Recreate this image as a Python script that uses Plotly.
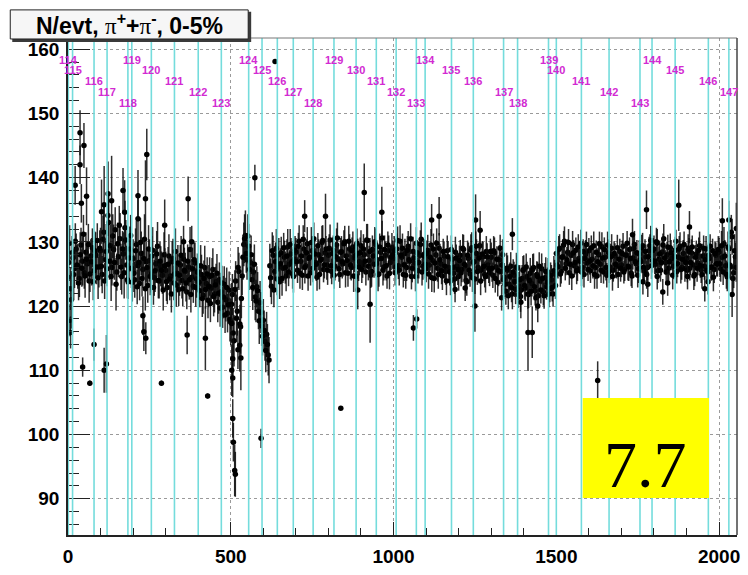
import plotly.graph_objects as go

# ---------------------------------------------------------------- data
# pion multiplicity per event along the run sequence; two interleaved samplings
entry_step = 5
n_evt = [
    124.5, 129.8, 121.0, 127.5, 125.8, 128.9, 126.2, 124.3, 129.5, 127.0, 125.2, 128.4, 126.6, 123.9, 127.8, 129.1, 125.5, 127.9, 130.2, 126.1,
    128.6, 124.9, 131.5, 127.2, 125.8, 133.0, 129.4, 126.0, 128.8, 131.9, 125.3, 127.7, 130.5, 124.6, 128.1, 132.2, 126.4, 123.8, 128.9, 125.9,
    127.4, 124.1, 129.6, 126.3, 123.5, 128.2, 125.7, 130.4, 126.9, 123.2, 127.1, 125.0, 128.7, 124.4, 126.6, 129.3, 123.9, 126.2, 124.8, 128.0,
    125.6, 122.9, 127.8, 124.7, 126.9, 123.6, 128.5, 125.1, 122.6, 126.4, 124.0, 127.3, 125.4, 122.2, 126.1, 128.8, 124.5, 123.1, 126.7, 124.2,
    125.3, 122.4, 124.9, 121.7, 126.0, 123.5, 120.9, 124.6, 122.8, 125.7, 121.9, 123.8, 120.6, 124.1, 122.2, 119.8, 123.4, 121.0, 118.9, 122.5,
    117.5, 121.8, 114.6, 123.9, 119.2, 125.4, 116.8, 124.7, 129.6, 131.0, 127.2, 129.3, 126.8, 124.1, 125.3, 121.4, 123.0, 119.2, 120.5, 116.9,
    117.8, 114.5, 115.6, 112.4, 126.3, 123.1, 127.9, 125.4, 129.0, 126.1, 123.8, 128.3, 125.9, 127.6, 124.7, 129.2, 126.5, 128.1, 125.0, 127.3,
    128.4, 125.6, 130.1, 127.0, 124.8, 128.9, 126.3, 129.7, 127.4, 125.2, 128.6, 130.5, 126.8, 124.5, 128.0, 127.1, 129.9, 125.7, 128.3, 126.4,
    127.9, 130.3, 125.4, 128.7, 126.2, 129.5, 127.3, 124.9, 128.5, 126.6, 130.0, 127.8, 125.1, 128.9, 126.0, 129.2, 127.5, 124.6, 128.2, 126.9,
    129.4, 126.4, 128.0, 125.3, 130.2, 127.1, 124.8, 128.8, 126.5, 129.6, 127.2, 125.0, 128.4, 130.6, 126.1, 127.9, 124.7, 128.6, 126.8, 129.1,
    127.4, 125.2, 128.9, 126.3, 130.1, 127.6, 124.9, 128.2, 126.0, 129.3, 127.0, 124.6, 128.5, 126.7, 129.8, 125.5, 127.9, 130.4, 126.2, 128.1,
    125.8, 128.7, 126.4, 129.5, 127.1, 124.3, 128.0, 125.9, 129.0, 126.6, 124.7, 127.8, 125.4, 128.6, 126.0, 123.9, 127.3, 125.1, 128.4, 126.2,
    124.6, 127.9, 125.7, 128.8, 126.3, 123.8, 127.4, 125.0, 129.1, 126.8, 124.2, 128.2, 126.0, 129.4, 125.6, 127.7, 124.9, 128.5, 126.4, 125.2,
    127.6, 124.8, 128.3, 126.1, 123.7, 127.2, 125.4, 128.0, 124.5, 122.3, 125.6, 123.4, 126.2, 121.9, 124.8, 122.6, 125.9, 123.1, 121.5, 124.3,
    125.7, 122.8, 124.6, 121.8, 125.1, 123.5, 126.0, 122.4, 124.9, 121.6, 123.9, 125.8, 122.2, 124.4, 123.0, 125.3, 122.7, 124.1, 121.9, 125.0,
    128.2, 126.1, 129.0, 125.4, 127.7, 130.1, 126.6, 128.4, 125.2, 127.9, 129.6, 126.3, 128.7, 125.8, 127.4, 129.8, 126.0, 124.9, 128.1, 126.7,
    128.6, 125.5, 127.3, 129.4, 126.0, 124.7, 128.0, 126.5, 129.2, 125.3, 127.6, 124.8, 128.3, 126.1, 129.0, 125.6, 127.8, 126.2, 124.9, 128.5,
    126.4, 129.3, 125.7, 127.9, 126.2, 128.8, 125.1, 127.5, 129.6, 126.6, 124.8, 128.1, 126.9, 129.4, 125.5, 127.7, 126.0, 128.6, 130.2, 127.1,
    128.9, 126.5, 129.8, 127.3, 125.6, 128.4, 130.5, 126.8, 128.0, 125.9, 129.1, 127.4, 126.2, 128.7, 125.4, 127.6, 129.3, 126.0, 128.2, 125.8,
    127.5, 129.0, 125.9, 128.3, 126.4, 124.9, 128.1, 126.7, 129.4, 125.6, 127.8, 126.2, 128.9, 125.3, 127.4, 126.0, 128.6, 125.7, 127.9, 126.5,
    128.4, 125.8, 127.6, 129.7, 126.3, 124.6, 128.9, 126.1, 130.8, 125.2, 127.7,
]
n_err = [
    3.2, 2.8, 4.5, 2.6, 3.0, 2.4, 3.5, 2.9, 2.7, 3.8, 2.5, 3.1, 2.8, 3.4, 2.6, 3.0, 2.9, 3.6, 2.7, 3.2,
    3.6, 2.9, 4.1, 3.0, 2.7, 4.4, 3.3, 2.8, 3.9, 3.5, 2.9, 3.2, 4.0, 2.8, 3.4, 4.2, 3.0, 2.7, 3.5, 3.1,
    3.0, 2.8, 3.7, 3.2, 2.6, 3.4, 2.9, 3.9, 3.1, 2.7, 3.3, 2.9, 3.6, 2.8, 3.0, 3.8, 2.7, 3.1, 2.9, 3.5,
    2.9, 2.6, 3.4, 2.8, 3.2, 2.7, 3.6, 3.0, 2.6, 3.1, 2.8, 3.3, 2.9, 2.7, 3.0, 3.5, 2.8, 2.6, 3.2, 2.9,
    2.8, 2.6, 3.1, 2.9, 3.4, 2.7, 2.8, 3.0, 2.6, 3.3, 2.9, 2.8, 3.1, 2.7, 3.0, 3.2, 2.8, 3.4, 3.0, 2.9,
    3.6, 3.2, 4.0, 3.1, 3.8, 2.9, 4.2, 3.0, 3.4, 3.9, 3.1, 3.5, 2.9, 3.3, 3.0, 3.6, 3.2, 2.8, 3.4, 3.1,
    3.3, 3.0, 3.5, 3.2, 3.4, 2.8, 3.1, 2.6, 3.0, 2.4, 2.7, 2.5, 2.3, 2.6, 2.4, 2.8, 2.2, 2.5, 2.3, 2.4,
    2.2, 2.0, 2.5, 2.1, 2.3, 2.4, 1.9, 2.6, 2.1, 2.0, 2.3, 2.5, 2.2, 2.1, 2.4, 1.9, 2.6, 2.0, 2.2, 2.3,
    2.1, 2.4, 2.0, 2.3, 2.2, 2.6, 1.9, 2.1, 2.4, 2.0, 2.5, 2.2, 2.1, 2.3, 2.0, 2.4, 2.2, 1.9, 2.3, 2.1,
    2.4, 2.0, 2.2, 2.1, 2.6, 2.3, 2.0, 2.2, 2.1, 2.5, 2.2, 2.0, 2.3, 2.7, 2.1, 2.2, 2.0, 2.4, 2.1, 2.3,
    2.2, 2.0, 2.4, 2.1, 2.5, 2.2, 2.0, 2.3, 2.1, 2.4, 2.2, 2.0, 2.3, 2.1, 2.5, 2.0, 2.2, 2.6, 2.1, 2.3,
    2.1, 2.4, 2.2, 2.5, 2.0, 2.2, 2.3, 2.1, 2.4, 2.0, 2.2, 2.3, 2.1, 2.4, 2.0, 2.2, 2.3, 2.1, 2.4, 2.2,
    2.2, 2.4, 2.0, 2.3, 2.1, 2.2, 2.5, 2.0, 2.4, 2.1, 2.3, 2.2, 2.0, 2.5, 2.1, 2.3, 2.0, 2.4, 2.2, 2.1,
    2.3, 2.0, 2.4, 2.1, 2.2, 2.3, 2.0, 2.4, 2.2, 2.1, 2.3, 2.0, 2.2, 2.4, 2.1, 2.3, 2.0, 2.2, 2.4, 2.1,
    2.2, 2.0, 2.3, 2.1, 2.4, 2.0, 2.2, 2.3, 2.1, 2.0, 2.2, 2.4, 2.1, 2.3, 2.0, 2.2, 2.1, 2.3, 2.0, 2.2,
    2.0, 1.8, 2.2, 1.9, 2.1, 2.3, 1.8, 2.0, 1.9, 2.2, 2.1, 1.8, 2.0, 1.9, 2.2, 2.1, 1.8, 2.0, 2.2, 1.9,
    2.0, 1.9, 2.1, 2.2, 1.8, 2.0, 2.1, 1.9, 2.3, 1.8, 2.0, 1.9, 2.1, 2.0, 2.2, 1.8, 2.0, 1.9, 2.1, 2.0,
    1.9, 2.1, 1.8, 2.0, 2.2, 1.9, 2.0, 1.8, 2.1, 2.0, 1.9, 2.2, 1.8, 2.0, 2.1, 1.9, 2.0, 2.2, 2.3, 1.9,
    2.1, 1.9, 2.2, 2.0, 1.8, 2.1, 2.3, 1.9, 2.0, 2.1, 2.2, 1.8, 2.0, 2.1, 1.9, 2.0, 2.2, 1.9, 2.1, 2.0,
    2.0, 2.2, 1.9, 2.1, 2.0, 1.8, 2.1, 1.9, 2.2, 2.0, 1.9, 2.1, 2.0, 2.2, 1.8, 2.0, 1.9, 2.1, 2.0, 1.9,
    2.2, 2.0, 2.4, 2.6, 2.1, 2.3, 2.5, 2.0, 2.8, 2.4, 2.2,
]
# the in-between entries (offset by half a step)
n_evt_mid = [
    126.8, 122.7, 128.3, 124.9, 130.1, 126.4, 123.6, 128.0, 125.9, 131.2, 124.7, 127.3, 129.6, 125.0, 126.9, 123.8, 128.6, 126.1, 124.4, 129.0,
    126.2, 130.4, 123.9, 128.5, 134.1, 127.0, 124.6, 130.9, 126.8, 123.4, 129.7, 132.6, 126.1, 128.9, 125.2, 130.3, 124.1, 127.5, 131.0, 123.7,
    125.1, 128.6, 123.0, 126.8, 129.9, 124.3, 127.4, 122.7, 126.0, 128.9, 124.6, 127.8, 122.9, 125.5, 128.1, 124.0, 127.0, 125.6, 122.5, 126.3,
    123.8, 126.5, 124.2, 121.9, 127.4, 125.0, 123.3, 126.7, 124.8, 127.9, 122.7, 125.6, 123.6, 127.0, 124.1, 121.8, 125.8, 127.2, 122.9, 125.3,
    123.7, 126.3, 121.2, 124.3, 122.6, 125.0, 123.1, 120.4, 124.8, 121.5, 123.3, 125.1, 122.0, 119.7, 123.6, 121.4, 118.6, 122.9, 120.2, 117.9,
    120.3, 115.8, 122.6, 118.1, 126.0, 113.9, 121.2, 127.6, 130.5, 128.2, 130.9, 125.7, 128.0, 122.9, 126.5, 120.8, 122.4, 117.7, 119.0, 115.3,
    116.2, 113.1, 114.0, 111.6, 124.4, 128.6, 122.5, 126.9, 124.2, 128.0, 126.6, 124.3, 129.1, 126.0, 127.8, 125.3, 129.6, 126.9, 124.6, 128.7,
    126.9, 129.3, 125.1, 127.8, 130.4, 126.0, 128.3, 124.7, 127.6, 129.9, 125.9, 128.1, 126.5, 129.4, 124.9, 127.3, 130.2, 126.4, 128.9, 125.6,
    129.0, 126.3, 128.2, 124.8, 127.7, 130.6, 125.8, 128.4, 126.9, 129.7, 125.2, 127.1, 130.1, 126.4, 128.6, 124.7, 127.9, 129.8, 126.1, 128.3,
    125.7, 128.9, 127.0, 130.3, 126.2, 128.5, 125.4, 127.8, 130.0, 126.6, 124.9, 129.2, 127.4, 125.6, 128.8, 126.3, 129.5, 125.1, 127.6, 128.0,
    128.6, 126.1, 130.2, 125.6, 127.9, 129.0, 126.4, 124.8, 128.7, 127.2, 130.5, 125.9, 127.5, 124.6, 128.3, 126.8, 129.6, 125.3, 127.8, 126.5,
    128.2, 125.0, 127.6, 124.4, 128.9, 126.7, 129.8, 124.9, 127.2, 125.5, 128.5, 126.2, 123.9, 127.7, 125.3, 128.8, 126.0, 124.2, 127.5, 125.7,
    127.1, 125.2, 129.0, 126.5, 124.0, 127.9, 125.6, 128.7, 124.4, 126.9, 129.3, 125.4, 127.5, 123.9, 128.1, 126.2, 124.6, 127.7, 125.8, 128.5,
    125.9, 128.6, 124.3, 127.3, 125.5, 129.0, 126.4, 124.1, 123.4, 125.9, 121.6, 124.6, 122.9, 125.3, 123.8, 126.1, 121.8, 124.1, 122.5, 125.6,
    123.2, 126.1, 121.9, 124.0, 122.3, 125.7, 123.0, 121.3, 124.6, 126.2, 122.5, 124.3, 121.6, 125.4, 123.7, 121.9, 124.8, 122.9, 125.5, 123.2,
    126.4, 128.8, 125.0, 127.6, 129.5, 125.9, 127.2, 129.9, 126.5, 124.7, 128.3, 126.8, 125.5, 129.2, 127.0, 125.3, 128.5, 127.4, 129.6, 125.7,
    127.0, 129.1, 126.3, 124.9, 128.4, 126.9, 129.7, 125.6, 127.5, 128.8, 126.0, 129.5, 125.4, 127.7, 124.6, 128.2, 126.5, 129.1, 127.3, 125.9,
    128.2, 125.3, 127.9, 129.8, 126.1, 127.4, 124.7, 129.0, 126.9, 128.3, 125.8, 127.2, 129.1, 126.0, 128.5, 124.9, 127.7, 129.4, 126.3, 128.7,
    127.0, 130.0, 125.5, 128.1, 126.8, 129.5, 127.5, 125.3, 129.2, 126.9, 128.3, 124.8, 127.8, 130.1, 126.6, 128.9, 125.7, 127.3, 129.6, 126.8,
    125.6, 128.5, 126.8, 129.2, 124.7, 127.6, 125.9, 128.7, 126.3, 124.9, 129.0, 127.2, 125.6, 127.9, 129.3, 126.1, 124.5, 128.2, 126.6, 128.8,
    126.6, 129.4, 125.3, 127.8, 124.9, 129.2, 126.4, 131.5, 124.3, 128.6, 126.0,
]
n_err_mid = [
    2.9, 3.3, 2.6, 4.0, 2.8, 3.1, 2.7, 3.5, 2.9, 3.0, 3.4, 2.6, 3.2, 2.8, 3.7, 2.9, 3.0, 2.7, 3.3, 2.8,
    3.1, 3.7, 2.8, 4.3, 3.2, 2.9, 3.8, 3.4, 2.7, 4.1, 3.3, 3.0, 3.6, 2.8, 4.0, 3.1, 2.9, 3.7, 3.2, 3.0,
    2.9, 3.5, 2.7, 3.2, 3.8, 2.8, 3.0, 3.4, 2.6, 3.7, 2.9, 3.1, 2.7, 3.3, 3.6, 2.8, 3.0, 2.9, 3.2, 2.7,
    3.0, 2.7, 3.3, 2.9, 3.1, 2.6, 3.4, 2.8, 3.2, 3.0, 2.7, 3.5, 2.9, 2.6, 3.1, 2.8, 3.3, 2.7, 3.0, 2.9,
    2.7, 3.2, 2.9, 2.8, 3.0, 2.6, 3.3, 2.9, 2.7, 3.1, 2.8, 3.0, 3.2, 2.9, 2.7, 3.3, 2.8, 3.1, 2.9, 3.4,
    3.3, 3.9, 3.0, 3.7, 3.2, 4.1, 3.1, 3.5, 3.8, 3.0, 3.4, 3.2, 3.0, 3.5, 3.1, 3.3, 2.9, 3.6, 3.2, 3.0,
    3.1, 3.4, 3.2, 3.6, 3.0, 2.9, 2.7, 3.0, 2.5, 2.6, 2.4, 2.7, 2.3, 2.5, 2.6, 2.2, 2.4, 2.3, 2.5, 2.2,
    2.3, 2.1, 2.4, 2.0, 2.2, 2.5, 2.1, 2.3, 2.0, 2.4, 2.2, 2.1, 2.6, 2.0, 2.3, 2.2, 2.4, 2.1, 2.0, 2.3,
    2.2, 2.0, 2.5, 2.1, 2.3, 2.4, 2.0, 2.2, 2.6, 2.1, 2.3, 2.0, 2.4, 2.2, 2.1, 2.5, 2.0, 2.3, 2.2, 2.4,
    2.1, 2.3, 2.0, 2.5, 2.2, 2.1, 2.4, 2.0, 2.3, 2.2, 2.6, 2.1, 2.0, 2.4, 2.2, 2.3, 2.1, 2.5, 2.0, 2.2,
    2.3, 2.1, 2.2, 2.4, 2.0, 2.3, 2.5, 2.1, 2.2, 2.0, 2.4, 2.2, 2.1, 2.3, 2.0, 2.5, 2.2, 2.1, 2.4, 2.2,
    2.0, 2.3, 2.1, 2.2, 2.4, 2.0, 2.3, 2.2, 2.5, 2.1, 2.0, 2.3, 2.2, 2.4, 2.1, 2.2, 2.0, 2.3, 2.1, 2.4,
    2.3, 2.1, 2.2, 2.4, 2.0, 2.3, 2.1, 2.5, 2.2, 2.0, 2.3, 2.1, 2.4, 2.2, 2.0, 2.3, 2.5, 2.1, 2.2, 2.0,
    2.1, 2.3, 2.2, 2.0, 2.4, 2.1, 2.2, 2.3, 2.0, 2.4, 2.1, 2.2, 2.3, 2.0, 2.4, 2.2, 2.1, 2.3, 2.0, 2.2,
    2.2, 2.1, 2.3, 2.0, 2.2, 2.4, 2.1, 2.0, 2.3, 2.2, 2.1, 2.4, 2.0, 2.2, 2.3, 2.1, 2.0, 2.2, 2.3, 2.1,
    1.9, 2.1, 2.0, 1.8, 2.2, 1.9, 2.0, 2.1, 1.8, 2.2, 2.0, 1.9, 2.1, 2.0, 1.8, 2.2, 1.9, 2.1, 2.0, 1.8,
    2.1, 1.9, 2.0, 2.2, 1.8, 2.1, 1.9, 2.0, 2.2, 1.9, 2.0, 2.1, 1.8, 2.0, 2.2, 1.9, 2.1, 2.0, 1.8, 2.1,
    2.0, 1.8, 2.1, 1.9, 2.2, 2.0, 1.9, 2.1, 1.8, 2.0, 2.2, 1.9, 2.0, 2.1, 1.9, 2.2, 2.0, 1.8, 2.1, 1.9,
    2.0, 2.2, 1.9, 2.1, 2.0, 1.8, 2.2, 2.0, 1.9, 2.1, 2.0, 2.2, 1.9, 1.8, 2.1, 2.0, 2.2, 1.9, 2.0, 2.1,
    1.9, 2.1, 2.0, 1.8, 2.2, 1.9, 2.1, 2.0, 1.9, 2.2, 2.0, 1.8, 2.1, 2.0, 1.9, 2.1, 2.2, 1.9, 2.0, 2.1,
    2.1, 2.3, 2.0, 2.5, 2.2, 2.4, 2.1, 2.7, 2.3, 2.6, 2.2,
]
entry_index = [i * entry_step for i in range(len(n_evt))]
entry_index_mid = [i * entry_step + entry_step / 2 for i in range(len(n_evt_mid))]

# isolated entries away from the main band
odd_x = [6, 8, 22, 37, 37, 41, 49, 57, 45, 67, 80, 111, 118,
         103, 111, 123, 134, 169, 174, 215, 215, 238, 242, 297, 369, 380, 355,
         230, 233, 239, 287, 366, 422, 429,
         503, 503, 506, 506, 506, 508, 512, 514, 522, 528, 531,
         574, 593, 636, 838, 1627,
         727, 791, 910, 964, 890, 928, 1061, 1071, 1117, 1140,
         1252, 1266, 1250, 1365, 1413, 1426, 1391, 1443, 1332, 1220, 1189,
         1734, 1777, 1876, 1909, 2010, 2030, 2053, 2040,
         1766, 1781, 1827, 1842, 1903, 1956, 1966, 1810]
odd_y = [117.8, 115.9, 138.8, 147.0, 142.0, 136.0, 145.0, 137.1, 110.5, 108.0, 114.0, 110.0, 111.0,
         134.7, 135.8, 137.5, 136.4, 138.0, 134.6, 137.2, 133.6, 136.7, 143.6, 132.6, 136.7, 130.0, 130.0,
         118.5, 116.0, 115.0, 108.0, 115.5, 115.0, 106.0,
         117.3, 110.0, 111.8, 108.8, 102.5, 98.8, 94.4, 93.8, 113.2, 117.2, 111.9,
         140.0, 99.4, 158.1, 104.1, 108.4,
         134.0, 134.0, 137.7, 134.6, 122.5, 120.3, 116.6, 118.0, 133.4, 134.0,
         133.4, 131.8, 120.0, 131.2, 115.9, 115.9, 120.6, 120.0, 121.3, 122.8, 122.6,
         131.1, 135.0, 135.7, 132.3, 133.3, 133.4, 132.1, 121.8,
         123.8, 123.4, 122.2, 123.6, 124.6, 122.7, 123.8, 124.6]
odd_err = [2.5, 2.5, 3.0, 3.5, 3.0, 3.0, 3.5, 4.5, 1.5, 0.4, 2.5, 3.5, 4.5,
           5.0, 6.0, 5.0, 7.0, 3.5, 5.0, 4.0, 4.0, 6.0, 4.0, 4.0, 3.5, 2.5, 2.5,
           3.0, 3.0, 2.5, 0.4, 3.0, 5.0, 0.4,
           3.0, 4.0, 3.0, 3.0, 3.0, 3.0, 4.0, 3.5, 3.0, 3.0, 5.0,
           2.0, 1.5, 0.0, 0.0, 3.0,
           2.5, 3.5, 4.5, 4.0, 3.0, 6.0, 2.0, 1.5, 2.5, 3.0,
           4.0, 3.0, 4.0, 2.5, 6.0, 4.0, 2.5, 2.5, 2.0, 2.0, 2.0,
           2.5, 3.0, 4.0, 2.5, 3.5, 3.0, 4.0, 3.5,
           2.0, 2.0, 2.0, 2.0, 2.0, 2.0, 2.0, 2.0]

# first entry of each run and its run number
run_numbers = list(range(114, 148))
run_starts = [1, 14, 80, 120, 184, 196, 256, 327, 400, 471, 555, 596, 643, 692,
              753, 817, 885, 947, 1008, 1070, 1097, 1178, 1245, 1338, 1381,
              1476, 1500, 1577, 1662, 1757, 1794, 1865, 1967, 2030]
label_levels = [158.3, 156.7, 155.0, 153.3, 151.7]

energy_label = "7.7"

# ---------------------------------------------------------------- layout helpers
W, H = 748, 575
L, R, T, B = 68, 740, 38, 551          # plot frame in pixels
X_RANGE = [0, 2055]
Y_RANGE = [84.35, 161.75]


def paper_x(p):
    return (p - L) / (R - L)


def paper_y(p):
    return (B - p) / (B - T)


SANS = "Liberation Sans, Arial, Helvetica, sans-serif"
SERIF = "Liberation Serif, Times New Roman, serif"
CYAN = "#74dcdc"
MAGENTA = "#d22ad2"

fig = go.Figure()

marker_style = dict(color="black", size=5.5)
bar_style = dict(type="data", color="rgba(10,10,10,0.85)", thickness=1.5, width=0)

for xs, ys, es in [(entry_index, n_evt, n_err),
                   (entry_index_mid, n_evt_mid, n_err_mid),
                   (odd_x, odd_y, odd_err)]:
    fig.add_trace(go.Scatter(
        x=xs, y=ys, mode="markers", marker=marker_style,
        error_y=dict(array=es, **bar_style), showlegend=False, cliponaxis=True,
    ))

shapes = []
# run boundaries
for xs in run_starts:
    shapes.append(dict(type="line", xref="x", yref="paper", x0=xs, x1=xs, y0=0, y1=1,
                       line=dict(color=CYAN, width=1.6), layer="above"))
# beam-energy tag
shapes.append(dict(type="rect", xref="x", yref="y", x0=1581, x1=1969, y0=90.1, y1=105.7,
                   fillcolor="#ffff00", line=dict(width=0), layer="above"))
# frame top and right
shapes.append(dict(type="line", xref="paper", yref="paper", x0=0, x1=1, y0=1, y1=1,
                   line=dict(color="#777", width=1), layer="above"))
shapes.append(dict(type="line", xref="paper", yref="paper", x0=1, x1=1, y0=0, y1=1,
                   line=dict(color="#444", width=1.5), layer="above"))
# title pave with shadow
shapes.append(dict(type="rect", xref="paper", yref="paper",
                   x0=paper_x(12), x1=paper_x(252), y0=paper_y(42), y1=paper_y(11),
                   fillcolor="#3a3a3a", line=dict(width=0), layer="above"))
shapes.append(dict(type="rect", xref="paper", yref="paper",
                   x0=paper_x(10), x1=paper_x(249), y0=paper_y(39), y1=paper_y(9),
                   fillcolor="#f6f6f6", line=dict(color="#222", width=1), layer="above"))

annotations = []
for k, (run, xs) in enumerate(zip(run_numbers, run_starts)):
    annotations.append(dict(x=xs, y=label_levels[k % 5], xref="x", yref="y", text=str(run),
                            showarrow=False, xanchor="center", yanchor="middle",
                            font=dict(family=SANS, size=11, color=MAGENTA, weight="bold")))

annotations.append(dict(x=1775, y=95.3, xref="x", yref="y", text=energy_label, showarrow=False,
                        xanchor="center", yanchor="middle",
                        font=dict(family=SERIF, size=66, color="black")))

pi = "<span style='font-family:Liberation Serif; font-weight:normal'>\u03c0</span>"
title_text = f"N/evt, {pi}<sup>+</sup>+{pi}<sup>-</sup>, 0-5%"
annotations.append(dict(x=paper_x(129.5), y=paper_y(24), xref="paper", yref="paper",
                        text=title_text, showarrow=False, xanchor="center", yanchor="middle",
                        font=dict(family=SANS, size=23, color="black", weight="bold")))

tick_font = dict(family=SANS, size=19, color="black", weight="bold")

fig.update_layout(
    width=W, height=H,
    margin=dict(l=L, r=W - R, t=T, b=H - B, pad=0),
    paper_bgcolor="white", plot_bgcolor="white",
    shapes=shapes, annotations=annotations,
    xaxis=dict(
        range=X_RANGE, tickvals=[0, 500, 1000, 1500, 2000], ticks="inside", ticklen=13,
        tickcolor="#222", tickwidth=1.3, tickfont=tick_font, ticklabelstandoff=3,
        showline=True, linecolor="#222", linewidth=1.6,
        showgrid=True, gridcolor="#9a9a9a", griddash="dot", gridwidth=1,
        minor=dict(dtick=100, ticks="inside", ticklen=7, tickcolor="#222", showgrid=False),
        zeroline=False, fixedrange=True,
    ),
    yaxis=dict(
        range=Y_RANGE, tickvals=[90, 100, 110, 120, 130, 140, 150, 160], ticks="inside", ticklen=22,
        tickcolor="#222", tickwidth=1.3, tickfont=tick_font, ticklabelstandoff=3,
        showline=True, linecolor="#222", linewidth=1.6,
        showgrid=True, gridcolor="#9a9a9a", griddash="dot", gridwidth=1,
        minor=dict(dtick=2, ticks="inside", ticklen=11, tickcolor="#222", showgrid=False),
        zeroline=False, fixedrange=True,
    ),
)

fig.write_html("out.html")
